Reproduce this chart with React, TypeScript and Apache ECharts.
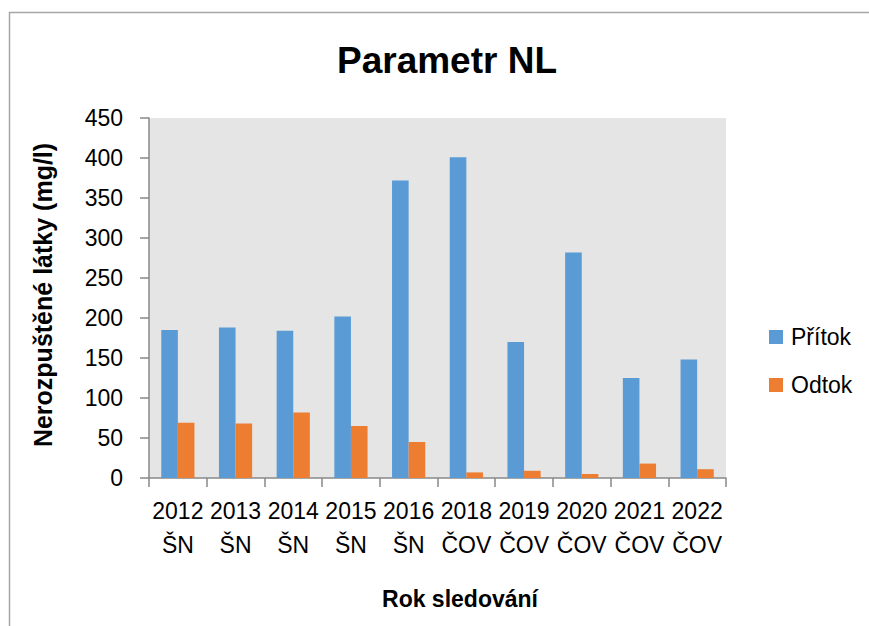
import React, { useEffect, useRef } from "react";
import * as echarts from "echarts";

const years = ["2012", "2013", "2014", "2015", "2016", "2018", "2019", "2020", "2021", "2022"];
const sites = ["ŠN", "ŠN", "ŠN", "ŠN", "ŠN", "ČOV", "ČOV", "ČOV", "ČOV", "ČOV"];
const pritok = [185, 188, 184, 202, 372, 401, 170, 282, 125, 148];
const odtok = [69, 68, 82, 65, 45, 7, 9, 5, 18, 11];
const seriesNames = ["Přítok", "Odtok"];
const titleText = "Parametr NL";
const yAxisTitle = "Nerozpuštěné látky (mg/l)";
const xAxisTitle = "Rok sledování";

const FONT = "'Liberation Sans', Arial, sans-serif";

export default function App() {
  const ref = useRef<HTMLDivElement>(null);
  useEffect(() => {
    if (!ref.current) return;
    const chart = echarts.init(ref.current, null, { renderer: "svg" });
    const categories = years.map((y, i) => `${y}\n${sites[i]}`);
    chart.setOption({
      animation: false,
      backgroundColor: "#ffffff",
      textStyle: { fontFamily: FONT },
      grid: {
        left: 149,
        right: 143,
        top: 118,
        bottom: 148,
        show: true,
        backgroundColor: "#e5e5e5",
        borderWidth: 0,
        containLabel: false,
      },
      legend: {
        orient: "vertical",
        left: 769,
        top: 325.5,
        padding: 0,
        itemWidth: 14,
        itemHeight: 14,
        itemGap: 25,
        icon: "rect",
        data: seriesNames,
        textStyle: { fontSize: 23, lineHeight: 23, color: "#000", fontFamily: FONT, padding: [0, 0, 0, 3] },
      },
      xAxis: {
        type: "category",
        data: categories,
        axisLine: { show: true, lineStyle: { color: "#898989", width: 1.5 } },
        axisTick: { show: true, length: 9, lineStyle: { color: "#898989", width: 1.5 } },
        axisLabel: {
          interval: 0,
          fontSize: 23,
          lineHeight: 34,
          margin: 16,
          color: "#000",
          fontFamily: FONT,
        },
        splitLine: { show: false },
      },
      yAxis: {
        type: "value",
        min: 0,
        max: 450,
        interval: 50,
        axisLine: { show: true, lineStyle: { color: "#898989", width: 1.5 } },
        axisTick: { show: true, length: 9, lineStyle: { color: "#898989", width: 1.5 } },
        axisLabel: { fontSize: 23, margin: 26, color: "#000", fontFamily: FONT },
        splitLine: { show: false },
      },
      series: [
        {
          name: seriesNames[0],
          type: "bar",
          data: pritok,
          barWidth: 16.6,
          barGap: "0%",
          itemStyle: { color: "#5b9bd5" },
        },
        {
          name: seriesNames[1],
          type: "bar",
          data: odtok,
          barWidth: 16.6,
          barGap: "0%",
          itemStyle: { color: "#ed7d31" },
        },
      ],
      graphic: [
        {
          type: "rect",
          shape: { x: 9.5, y: 12.5, width: 900, height: 700 },
          style: { fill: "none", stroke: "#a6a6a6", lineWidth: 1.5 },
          silent: true,
          z: -1,
        },
        {
          type: "text",
          x: 447,
          y: 60.3,
          style: {
            text: titleText,
            font: `bold 37px ${FONT}`,
            fill: "#000",
            textAlign: "center",
            textVerticalAlign: "middle",
          },
        },
        {
          type: "text",
          x: 43,
          y: 295,
          rotation: Math.PI / 2,
          style: {
            text: yAxisTitle,
            font: `bold 25px ${FONT}`,
            fill: "#000",
            textAlign: "center",
            textVerticalAlign: "middle",
          },
        },
        {
          type: "text",
          x: 460,
          y: 599,
          style: {
            text: xAxisTitle,
            font: `bold 23px ${FONT}`,
            fill: "#000",
            textAlign: "center",
            textVerticalAlign: "middle",
          },
        },
      ],
    });
    return () => chart.dispose();
  }, []);
  return (
    <div
      ref={ref}
      style={{ position: "fixed", left: 0, top: 0, width: 869, height: 626, background: "#fff" }}
    />
  );
}
